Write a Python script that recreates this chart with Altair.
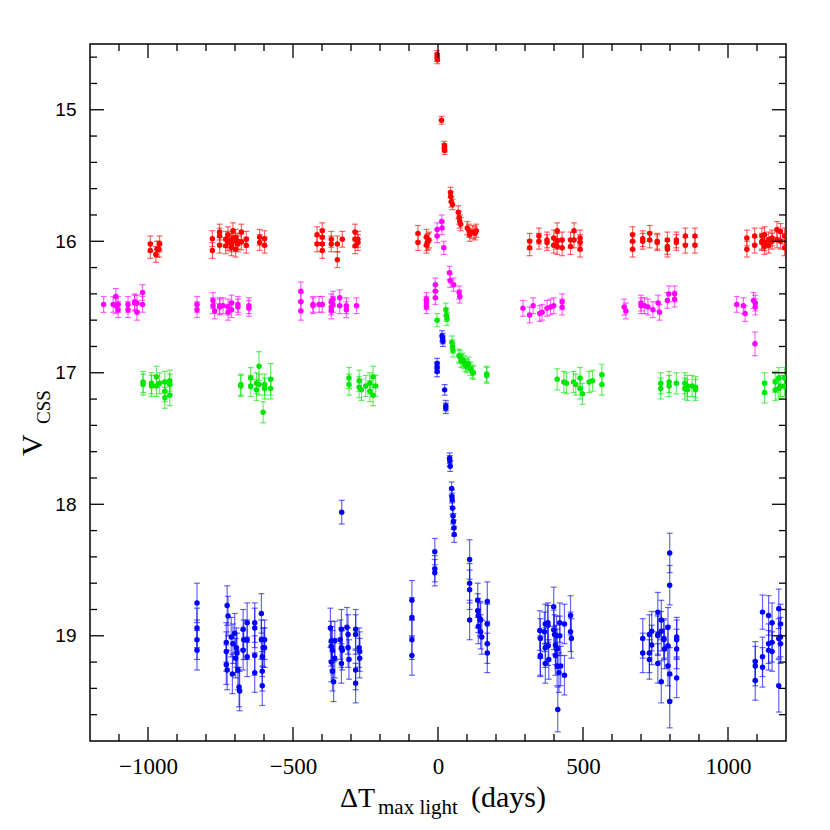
import altair as alt
import pandas as pd

# (day, mag, err)
red = [
    (-992, 16.02, .06), (-992, 16.07, .06), (-973, 16.10, .06), (-969, 16.06, .06), (-962, 16.06, .06), (-960, 16.02, .06),
    (-778, 15.98, .06), (-778, 16.07, .06), (-753, 15.93, .06), (-753, 15.96, .06), (-753, 16.03, .06),
    (-732, 15.985, .06), (-732, 16.035, .06), (-724, 15.95, .06), (-724, 16.01, .06),
    (-712, 15.985, .06), (-712, 16.02, .06), (-712, 16.05, .06), (-707, 15.92, .06), (-707, 16.0, .06),
    (-698, 15.97, .06), (-698, 16.06, .06), (-690, 16.0, .06), (-690, 16.02, .06), (-678, 15.93, .06), (-678, 16.005, .06),
    (-661, 15.985, .06), (-661, 16.03, .06), (-615, 16.01, .06), (-615, 15.97, .06), (-598, 15.98, .06), (-598, 16.03, .06),
    (-417, 15.95, .06), (-417, 16.02, .06), (-399, 15.92, .06), (-399, 15.97, .06), (-399, 16.02, .06), (-399, 16.07, .06),
    (-368, 15.985, .06), (-368, 16.02, .06), (-347, 16.14, .06), (-347, 16.02, .06), (-330, 15.985, .06),
    (-286, 15.93, .06), (-286, 15.985, .06), (-286, 16.035, .06), (-276, 15.985, .06), (-276, 16.01, .06),
    (-69, 15.94, .06), (-69, 16.01, .06), (-40, 15.97, .06), (-40, 16.03, .06), (-37, 16.01, .06), (-31, 15.99, .06), (-34, 16.0, .06),
    (-3, 14.58, .03), (-3, 14.60, .03), (-2, 14.62, .03), (12, 15.08, .03), (22, 15.27, .03), (22, 15.29, .03), (23, 15.31, .03),
    (43, 15.63, .04), (44, 15.66, .04), (46, 15.70, .04), (50, 15.72, .04),
    (70, 15.78, .05), (73, 15.82, .05), (75, 15.85, .05), (78, 15.87, .05),
    (101, 15.90, .05), (107, 15.92, .05), (109, 15.95, .05), (121, 15.93, .05), (132, 15.92, .05), (128, 15.94, .05),
    (316, 16.0, .06), (316, 16.05, .06), (348, 15.96, .06), (348, 16.0, .06), (376, 15.99, .06), (376, 16.01, .06),
    (399, 15.975, .06), (399, 16.03, .06), (411, 15.92, .06), (411, 16.0, .06), (411, 16.04, .06),
    (428, 15.99, .06), (428, 16.05, .06), (457, 15.99, .06), (457, 16.04, .06), (469, 15.92, .06), (469, 15.99, .06),
    (490, 15.975, .06), (490, 16.01, .06), (490, 16.06, .06),
    (671, 15.95, .06), (671, 16.0, .06), (671, 16.06, .06), (706, 15.98, .06), (706, 16.0, .06),
    (730, 15.94, .06), (730, 15.99, .06), (756, 16.0, .06), (756, 16.01, .06),
    (791, 15.99, .06), (791, 16.04, .06), (791, 16.06, .06), (822, 15.99, .06), (822, 16.01, .06),
    (853, 15.96, .06), (853, 16.03, .06), (886, 15.96, .06), (886, 16.03, .06),
    (1065, 15.975, .06), (1065, 16.06, .06), (1092, 15.96, .06), (1092, 16.03, .06),
    (1117, 15.96, .06), (1117, 16.0, .06), (1117, 16.01, .06), (1126, 15.95, .06), (1126, 16.01, .06), (1126, 16.04, .06),
    (1140, 15.99, .06), (1140, 16.03, .06), (1152, 15.975, .06), (1152, 16.0, .06),
    (1169, 15.91, .06), (1169, 15.99, .06), (1181, 15.925, .06), (1181, 16.0, .06), (1195, 15.96, .06), (1195, 16.05, .06),
]

magenta = [
    (-1153, 16.48, .06), (-1120, 16.48, .06), (-1111, 16.42, .06), (-1111, 16.49, .06), (-1103, 16.48, .06), (-1103, 16.52, .06),
    (-1069, 16.48, .06), (-1069, 16.52, .06), (-1046, 16.47, .06), (-1046, 16.46, .06), (-1038, 16.47, .06), (-1038, 16.54, .06),
    (-1019, 16.39, .06), (-1019, 16.48, .06),
    (-831, 16.48, .06), (-831, 16.52, .06), (-776, 16.45, .06), (-776, 16.49, .06), (-770, 16.53, .06),
    (-753, 16.49, .06), (-753, 16.5, .06), (-741, 16.49, .06), (-724, 16.5, .06), (-724, 16.54, .06),
    (-712, 16.47, .06), (-712, 16.52, .06), (-690, 16.5, .06), (-690, 16.48, .06), (-652, 16.51, .06), (-652, 16.49, .06),
    (-473, 16.38, .07), (-473, 16.46, .07), (-473, 16.53, .07), (-431, 16.48, .06), (-431, 16.49, .06), (-410, 16.48, .06),
    (-399, 16.48, .06), (-368, 16.46, .06), (-368, 16.5, .06), (-368, 16.53, .06), (-362, 16.44, .06), (-362, 16.48, .06),
    (-339, 16.43, .06), (-339, 16.49, .06), (-316, 16.49, .06), (-316, 16.52, .06), (-281, 16.49, .06),
    (-40, 16.44, .05), (-40, 16.47, .05), (-40, 16.5, .05), (-9, 16.33, .05), (-9, 16.38, .05), (-9, 16.43, .05),
    (-3, 15.91, .05), (-3, 15.96, .05), (13, 15.85, .05), (14, 15.90, .05), (20, 16.05, .05),
    (40, 16.24, .05), (42, 16.3, .05), (54, 16.33, .05), (73, 16.39, .05), (75, 16.42, .05),
    (293, 16.51, .06), (316, 16.56, .06), (328, 16.49, .06), (351, 16.55, .06), (359, 16.54, .06), (376, 16.51, .06),
    (388, 16.5, .06), (399, 16.49, .06), (428, 16.46, .06), (428, 16.5, .06),
    (642, 16.5, .06), (648, 16.53, .06), (700, 16.47, .06), (700, 16.49, .06), (712, 16.49, .06), (724, 16.5, .06),
    (741, 16.52, .06), (759, 16.47, .06), (764, 16.54, .06), (791, 16.45, .06), (796, 16.4, .06), (816, 16.44, .06), (816, 16.4, .06),
    (1030, 16.48, .06), (1053, 16.49, .06), (1059, 16.55, .06), (1088, 16.45, .06), (1094, 16.5, .06), (1094, 16.47, .06),
    (1093, 16.78, .09),
]

green = [
    (-1017, 17.07, .08), (-1017, 17.09, .08), (-988, 17.08, .08), (-988, 17.1, .08), (-971, 17.03, .08), (-971, 17.1, .08),
    (-960, 17.08, .08), (-942, 17.07, .08), (-942, 17.14, .08), (-942, 17.19, .08),
    (-925, 17.06, .08), (-925, 17.09, .08), (-925, 17.17, .08),
    (-680, 17.09, .08), (-680, 17.1, .08), (-646, 17.04, .08), (-646, 17.1, .08), (-626, 17.08, .08), (-626, 17.13, .08),
    (-617, 16.95, .11), (-617, 17.09, .08), (-603, 17.3, .08), (-598, 17.09, .08), (-598, 17.12, .08),
    (-577, 17.05, .12), (-577, 17.12, .08),
    (-307, 17.04, .08), (-307, 17.09, .08), (-272, 17.06, .08), (-272, 17.11, .08), (-264, 17.13, .08), (-249, 17.1, .08),
    (-235, 17.08, .08), (-235, 17.14, .08), (-224, 17.03, .08), (-224, 17.17, .08), (-215, 17.1, .08),
    (-3, 16.6, .05), (27, 16.52, .05), (29, 16.56, .05), (31, 16.59, .05), (48, 16.77, .05), (50, 16.8, .05), (52, 16.83, .05),
    (72, 16.87, .05), (76, 16.88, .05), (80, 16.91, .05), (85, 16.9, .05), (90, 16.92, .05), (95, 16.94, .05),
    (100, 16.95, .05), (105, 16.93, .05), (112, 16.97, .05), (118, 16.99, .05), (122, 17.0, .05), (168, 17.01, .06), (168, 17.02, .06),
    (411, 17.05, .08), (434, 17.07, .08), (443, 17.08, .08), (467, 17.07, .08), (475, 17.09, .08), (490, 17.04, .08),
    (490, 17.12, .08), (498, 17.16, .08), (521, 17.07, .08), (533, 17.06, .08), (565, 17.015, .08), (565, 17.09, .08),
    (768, 17.08, .08), (768, 17.12, .08), (797, 17.07, .08), (797, 17.1, .08), (822, 17.08, .08), (851, 17.08, .08),
    (851, 17.12, .08), (860, 17.1, .08), (860, 17.13, .08), (876, 17.1, .08), (888, 17.11, .08), (888, 17.13, .08),
    (1126, 17.08, .08), (1126, 17.15, .08), (1163, 17.07, .08), (1163, 17.13, .08), (1175, 17.04, .08), (1175, 17.12, .08),
    (1181, 17.1, .08), (1195, 17.04, .08), (1195, 17.1, .08),
]

blue = [
    (-831, 18.75, .15), (-831, 18.94, .15), (-831, 19.03, .15), (-831, 19.11, .15),
    (-727, 18.77, .15), (-724, 18.85, .15), (-730, 19.05, .15), (-730, 19.12, .15), (-730, 19.22, .15), (-727, 19.26, .15),
    (-713, 19.01, .15), (-707, 19.06, .15), (-709, 19.29, .15), (-701, 18.98, .15), (-698, 19.17, .15), (-695, 19.09, .15),
    (-693, 19.13, .15), (-690, 19.26, .15), (-686, 19.39, .15), (-684, 19.42, .15), (-672, 18.95, .15), (-670, 19.03, .15),
    (-672, 19.11, .15), (-658, 18.9, .15), (-658, 19.03, .15), (-658, 19.16, .15),
    (-632, 18.9, .15), (-632, 18.94, .15), (-632, 19.15, .15), (-632, 19.28, .15),
    (-609, 18.83, .15), (-609, 19.03, .15), (-606, 19.16, .15), (-606, 19.27, .15), (-606, 19.38, .15),
    (-598, 19.03, .15), (-598, 19.09, .15), (-603, 19.09, .15),
    (-332, 18.06, .09),
    (-371, 18.94, .15), (-368, 19.04, .15), (-368, 19.08, .15), (-364, 19.11, .15), (-368, 19.2, .15), (-364, 19.27, .15),
    (-360, 19.35, .15), (-356, 19.17, .15), (-356, 19.04, .15), (-337, 19.03, .15), (-333, 18.95, .15), (-333, 19.09, .15),
    (-333, 19.21, .15), (-330, 19.11, .15), (-314, 18.935, .15), (-310, 18.99, .15), (-310, 19.09, .15), (-307, 19.18, .15),
    (-284, 18.95, .15), (-284, 18.99, .15), (-284, 19.26, .15), (-284, 19.36, .15), (-272, 19.09, .15), (-270, 19.12, .15),
    (-270, 19.17, .15),
    (-90, 18.73, .15), (-90, 18.86, .15), (-90, 19.03, .15), (-90, 19.15, .15),
    (-11, 18.36, .1), (-11, 18.49, .1), (-11, 18.52, .1),
    (-3, 16.93, .04), (-3, 16.96, .04), (-3, 16.99, .04), (14, 16.72, .04), (16, 16.74, .04), (17, 16.76, .04),
    (23, 17.13, .04), (27, 17.25, .04), (27, 17.27, .04), (40, 17.65, .04), (41, 17.67, .04), (42, 17.71, .04),
    (47, 17.88, .05), (48, 17.94, .05), (49, 17.965, .05), (50, 18.03, .05), (52, 18.09, .06), (53, 18.13, .06),
    (55, 18.18, .06), (56, 18.23, .06),
    (109, 18.42, .15), (109, 18.6, .15), (109, 18.65, .15), (109, 18.88, .15),
    (137, 18.73, .13), (137, 18.81, .13), (139, 18.845, .13), (139, 18.93, .13), (145, 18.87, .13), (147, 18.88, .13),
    (147, 18.97, .13), (151, 19.01, .13), (170, 18.74, .15), (170, 18.91, .15), (170, 19.06, .15), (170, 19.13, .15),
    (351, 18.96, .15), (353, 19.02, .15), (353, 19.15, .15), (353, 19.16, .15), (367, 18.97, .15), (370, 18.91, .15),
    (370, 19.09, .15), (370, 19.21, .15), (379, 18.9, .15), (379, 18.92, .15), (380, 19.075, .15), (382, 19.18, .15),
    (399, 18.78, .15), (399, 18.955, .15), (402, 18.99, .15), (405, 19.07, .15), (405, 19.15, .15), (409, 19.0, .15),
    (411, 19.1, .15), (411, 19.23, .15), (413, 19.56, .17), (417, 19.28, .15), (420, 18.9, .15), (420, 19.0, .15),
    (423, 19.23, .15), (436, 18.91, .15), (436, 19.3, .15), (457, 18.845, .15), (457, 18.97, .15), (460, 19.02, .15),
    (706, 19.02, .15), (706, 19.13, .15), (729, 18.99, .15), (729, 19.13, .15), (729, 19.18, .15), (737, 18.965, .15),
    (737, 19.07, .15), (758, 18.82, .15), (758, 18.99, .15), (758, 19.0, .15), (758, 19.21, .15), (770, 18.88, .15),
    (770, 18.965, .15), (770, 19.35, .16), (779, 19.02, .15), (779, 19.03, .15), (781, 19.1, .15), (793, 18.935, .15),
    (793, 19.075, .15), (793, 19.23, .15), (799, 18.37, .15), (799, 18.615, .15), (799, 19.29, .2), (799, 19.5, .2),
    (823, 19.01, .15), (823, 19.03, .15), (823, 19.1, .15), (823, 19.32, .15),
    (1094, 19.195, .15), (1094, 19.23, .15), (1094, 19.34, .15), (1119, 18.82, .13), (1119, 19.16, .15), (1119, 19.24, .15),
    (1140, 18.845, .15), (1140, 19.06, .15), (1140, 19.11, .15), (1152, 18.9, .15), (1152, 19.05, .15), (1152, 19.12, .15),
    (1175, 18.795, .15), (1175, 19.02, .15), (1175, 19.38, .2), (1181, 18.91, .15), (1181, 19.01, .15), (1181, 19.06, .15),
]

series_names = ["red", "magenta", "green", "blue"]
series_colors = ["#ff0000", "#ff00ff", "#00e600", "#0000ff"]

x_major = [-1000, -500, 0, 500, 1000]
x_minor = [-1100, -900, -800, -700, -600, -400, -300, -200, -100,
           100, 200, 300, 400, 600, 700, 800, 900, 1100]
y_major = [15, 16, 17, 18, 19]
y_minor = [14.6, 14.8, 15.2, 15.4, 15.6, 15.8, 16.2, 16.4, 16.6, 16.8,
           17.2, 17.4, 17.6, 17.8, 18.2, 18.4, 18.6, 18.8, 19.2, 19.4, 19.6]

rows = []
for name, pts in zip(series_names, [red, magenta, green, blue]):
    for d, m, e in pts:
        rows.append({"s": name, "day": d, "mag": m, "lo": m - e, "hi": m + e})
df = pd.DataFrame(rows)

W, H = 696, 697
xscale = alt.Scale(domain=[-1200, 1200], nice=False, zero=False)
yscale = alt.Scale(domain=[14.5, 19.8], reverse=True, nice=False, zero=False)
xaxis = alt.Axis(values=x_major, ticks=False, domain=False, grid=False, title=None,
                 labelFont="Liberation Serif", labelFontSize=23, labelPadding=14,
                 labelColor="black", format="d")
yaxis = alt.Axis(values=y_major, ticks=False, domain=False, grid=False, title=None,
                 labelFont="Liberation Sans", labelFontSize=19, labelPadding=14,
                 labelColor="black", format="d")
color = alt.Color("s:N", scale=alt.Scale(domain=series_names, range=series_colors), legend=None)

base = alt.Chart(df)
bars = base.mark_rule(strokeWidth=1.2, opacity=0.6, clip=True).encode(
    x=alt.X("day:Q", scale=xscale, axis=xaxis),
    y=alt.Y("lo:Q", scale=yscale, axis=yaxis), y2="hi:Q", color=color)
cap_lo = base.mark_tick(orient="horizontal", size=6, thickness=1.2, opacity=0.6, clip=True).encode(
    x=alt.X("day:Q", scale=xscale, axis=xaxis),
    y=alt.Y("lo:Q", scale=yscale, axis=yaxis), color=color)
cap_hi = base.mark_tick(orient="horizontal", size=6, thickness=1.2, opacity=0.6, clip=True).encode(
    x=alt.X("day:Q", scale=xscale, axis=xaxis),
    y=alt.Y("hi:Q", scale=yscale, axis=yaxis), color=color)
pts = base.mark_circle(size=30, opacity=1, clip=True).encode(
    x=alt.X("day:Q", scale=xscale, axis=xaxis),
    y=alt.Y("mag:Q", scale=yscale, axis=yaxis), color=color)


def xticks(vals, y0, y1):
    return alt.Chart(pd.DataFrame({"v": vals})).mark_rule(color="black", strokeWidth=1.3).encode(
        x=alt.X("v:Q", scale=xscale, axis=xaxis), y=alt.value(y0), y2=alt.value(y1))


def yticks(vals, x0, x1):
    return alt.Chart(pd.DataFrame({"v": vals})).mark_rule(color="black", strokeWidth=1.3).encode(
        y=alt.Y("v:Q", scale=yscale, axis=yaxis), x=alt.value(x0), x2=alt.value(x1))


ticks = [
    xticks(x_major, H, H - 14), xticks(x_minor, H, H - 7),
    xticks(x_major, 0, 14), xticks(x_minor, 0, 7),
    yticks(y_major, 0, 14), yticks(y_minor, 0, 7),
    yticks(y_major, W, W - 14), yticks(y_minor, W, W - 7),
]

one = pd.DataFrame({"a": [0]})


def label(txt, x, y, size, angle=0, align="left"):
    return alt.Chart(one).mark_text(text=txt, font="Liberation Serif", fontSize=size, color="black",
                                    angle=angle, align=align, baseline="alphabetic").encode(
        x=alt.value(x), y=alt.value(y))


titles = [
    label("\u0394T", 250, 763, 28),
    label("max light", 288, 770, 21),
    label("(days)", 381, 763, 30),
    label("V", -48, 412, 30, angle=270),
    label("CSS", -40, 380, 19, angle=270),
]

chart = alt.layer(bars, cap_lo, cap_hi, pts, *ticks, *titles).properties(
    width=W, height=H,
    autosize=alt.AutoSizeParams(type="none"),
    padding={"left": 82, "top": 36, "right": 30, "bottom": 80},
).configure_view(stroke="black", strokeWidth=1.5)

chart.save("out.html", embed_options={"renderer": "svg", "actions": False})
